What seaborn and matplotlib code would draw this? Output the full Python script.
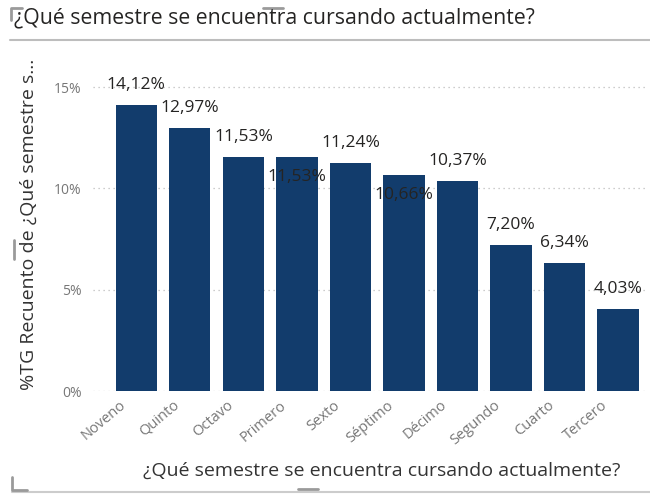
import matplotlib
matplotlib.use("Agg")
import matplotlib.pyplot as plt
import matplotlib.lines as mlines
import matplotlib.transforms as mtransforms
import pandas as pd
import seaborn as sns

semestres = ['Noveno', 'Quinto', 'Octavo', 'Primero', 'Sexto',
             'Séptimo', 'Décimo', 'Segundo', 'Cuarto', 'Tercero']
porcentajes = [14.12, 12.97, 11.53, 11.53, 11.24, 10.66, 10.37, 7.20, 6.34, 4.03]
# where Power BI put each data label: above the bar or inside it
posicion_etiqueta = ['arriba', 'arriba', 'arriba', 'dentro', 'arriba',
                     'dentro', 'arriba', 'arriba', 'arriba', 'arriba']
ticks_y = [0, 5, 10, 15]

titulo = '¿Qué semestre se encuentra cursando actualmente?'
etiqueta_y = '%TG Recuento de ¿Qué semestre s...'

sns.set_style('white')
plt.rcParams['font.family'] = ['Open Sans', 'DejaVu Sans']

df = pd.DataFrame({'semestre': semestres, 'pct': porcentajes})

fig = plt.figure(figsize=(6.5, 4.94), dpi=100)
ax = fig.add_axes([0.143, 0.2085, 0.854, 0.6355])

sns.barplot(data=df, x='semestre', y='pct', color='#123C6C', saturation=1,
            width=0.77, ax=ax, edgecolor='none')

ax.set_xlim(-0.81, 9.56)
ax.set_ylim(0, 15.5)
ax.set_yticks(ticks_y)
ax.set_yticklabels([f'{t}%' for t in ticks_y], color='#777777', fontsize=10)
ax.tick_params(axis='y', length=0, pad=8)
ax.tick_params(axis='x', length=0, pad=2)
desplaza = mtransforms.ScaledTranslation(-0.17, -0.04, fig.dpi_scale_trans)
for lab in ax.get_xticklabels():
    lab.set_rotation(40)
    lab.set_ha('right')
    lab.set_rotation_mode('anchor')
    lab.set_color('#777777')
    lab.set_fontsize(10.5)
    lab.set_transform(lab.get_transform() + desplaza)
ax.yaxis.grid(True, linestyle=(0, (1, 3)), color='#bdbdbd', linewidth=0.9)
ax.set_axisbelow(True)
for s in ax.spines.values():
    s.set_visible(False)

ax.set_xlabel(titulo, fontsize=14, color='#333333')
ax.set_ylabel(etiqueta_y, fontsize=14, color='#333333')
ax.yaxis.set_label_coords(-0.1, 0.53)
ax.xaxis.set_label_coords(0.52, -0.225)

for i, (v, pos) in enumerate(zip(porcentajes, posicion_etiqueta)):
    off = 14.4 if pos == 'arriba' else -14.4
    ax.annotate(f'{v:.2f}%'.replace('.', ','), (i, v), xytext=(0, off),
                textcoords='offset points', ha='center', va='center',
                fontsize=12.5, color='#252423', annotation_clip=False)

fig.text(0.022, 0.963, titulo, fontsize=15.3, color='#252423',
         ha='left', va='center')

# header rule and Power BI visual handles
gris = '#9a9a9a'
fig.add_artist(mlines.Line2D([0.015, 1.0], [0.919, 0.919], color='#bdbdbd', lw=1.5))
fig.add_artist(mlines.Line2D([0.018, 1.0], [0.004, 0.004], color='#cccccc', lw=1.5))
fig.add_artist(mlines.Line2D([0.017, 0.017, 0.034], [0.96, 0.984, 0.984], color=gris, lw=2))
fig.add_artist(mlines.Line2D([0.405, 0.435], [0.984, 0.984], color=gris, lw=2))
fig.add_artist(mlines.Line2D([0.021, 0.021], [0.475, 0.515], color=gris, lw=2))
fig.add_artist(mlines.Line2D([0.019, 0.019, 0.042], [0.035, 0.008, 0.008], color=gris, lw=2))
fig.add_artist(mlines.Line2D([0.459, 0.489], [0.01, 0.01], color=gris, lw=2))

fig.savefig('out.png', dpi=100)
